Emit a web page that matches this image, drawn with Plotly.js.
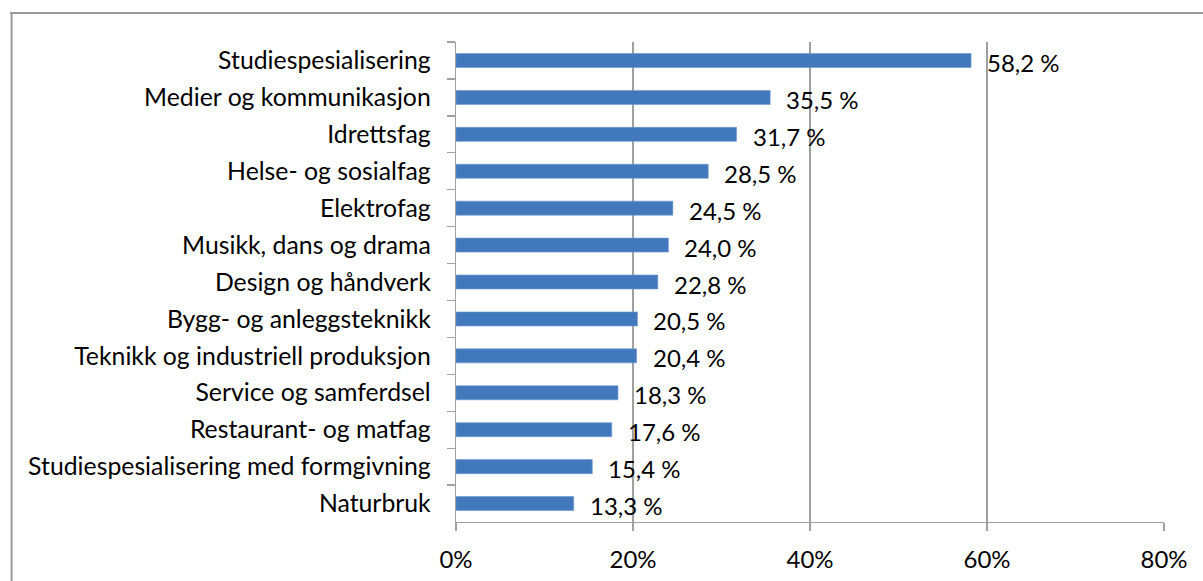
<!DOCTYPE html>
<html>
<head>
<meta charset="utf-8">
<script src="https://cdn.plot.ly/plotly-3.0.1.min.js"></script>
<style>
html,body{margin:0;padding:0;background:#fff;}
#chart{width:1203px;height:581px;}
</style>
</head>
<body>
<div id="chart"></div>
<script>
const categories = [
  "Studiespesialisering",
  "Medier og kommunikasjon",
  "Idrettsfag",
  "Helse- og sosialfag",
  "Elektrofag",
  "Musikk, dans og drama",
  "Design og håndverk",
  "Bygg- og anleggsteknikk",
  "Teknikk og industriell produksjon",
  "Service og samferdsel",
  "Restaurant- og matfag",
  "Studiespesialisering med formgivning",
  "Naturbruk"
];
const values = [58.2, 35.5, 31.7, 28.5, 24.5, 24.0, 22.8, 20.5, 20.4, 18.3, 17.6, 15.4, 13.3];
const valueLabels = values.map(v => v.toFixed(1).replace('.', ',') + ' %');
const xTickVals = [0, 20, 40, 60, 80];
const xTickText = ["0%", "20%", "40%", "60%", "80%"];

const FONT = "Lato, 'Noto Sans', sans-serif";
const GRID = "#A0A0A0";

const trace = {
  type: "bar",
  orientation: "h",
  x: values,
  y: categories,
  marker: {color: "#4279BD", line: {color: "#6C97CE", width: 0.6}},
  hoverinfo: "skip"
};

const annotations = values.map((v, i) => ({
  x: v, y: categories[i], xref: "x", yref: "y",
  text: valueLabels[i], showarrow: false,
  xanchor: "left", yanchor: "middle", xshift: 14, yshift: -2,
  font: {family: FONT, size: 24, color: "#000"}
}));

const layout = {
  width: 1203, height: 581,
  margin: {l: 456, r: 39, t: 42, b: 59, pad: 0},
  paper_bgcolor: "#fff", plot_bgcolor: "#fff",
  showlegend: false,
  bargap: 0.62,
  font: {family: FONT, size: 24, color: "#000"},
  xaxis: {
    range: [0, 80], tickvals: xTickVals, ticktext: xTickText,
    showgrid: true, gridcolor: GRID, gridwidth: 1.3,
    showline: true, linecolor: GRID, linewidth: 1.3,
    ticks: "outside", ticklen: 8, tickcolor: GRID, tickwidth: 1.3,
    ticklabelstandoff: 8,
    zeroline: false, fixedrange: true,
    tickfont: {family: FONT, size: 24, color: "#000"}
  },
  yaxis: {
    type: "category", categoryorder: "array", categoryarray: categories,
    autorange: "reversed",
    showline: true, linecolor: GRID, linewidth: 1.3,
    ticks: "outside", ticklen: 8, tickcolor: GRID, tickwidth: 1.3,
    tickson: "boundaries", showgrid: false,
    ticklabelstandoff: 19,
    fixedrange: true,
    tickfont: {family: FONT, size: 24.8, color: "#000"}
  },
  annotations: annotations,
  shapes: [
    {type: "line", xref: "paper", yref: "paper", x0: -0.63, x1: 1.3, y0: 1.0604, y1: 1.0604, line: {color: "#999", width: 2}},
    {type: "line", xref: "paper", yref: "paper", x0: -0.6277, x1: -0.6277, y0: 1.0604, y1: -0.2, line: {color: "#999", width: 2}}
  ]
};

Plotly.newPlot("chart", [trace], layout, {displayModeBar: false, staticPlot: true});
</script>
</body>
</html>
